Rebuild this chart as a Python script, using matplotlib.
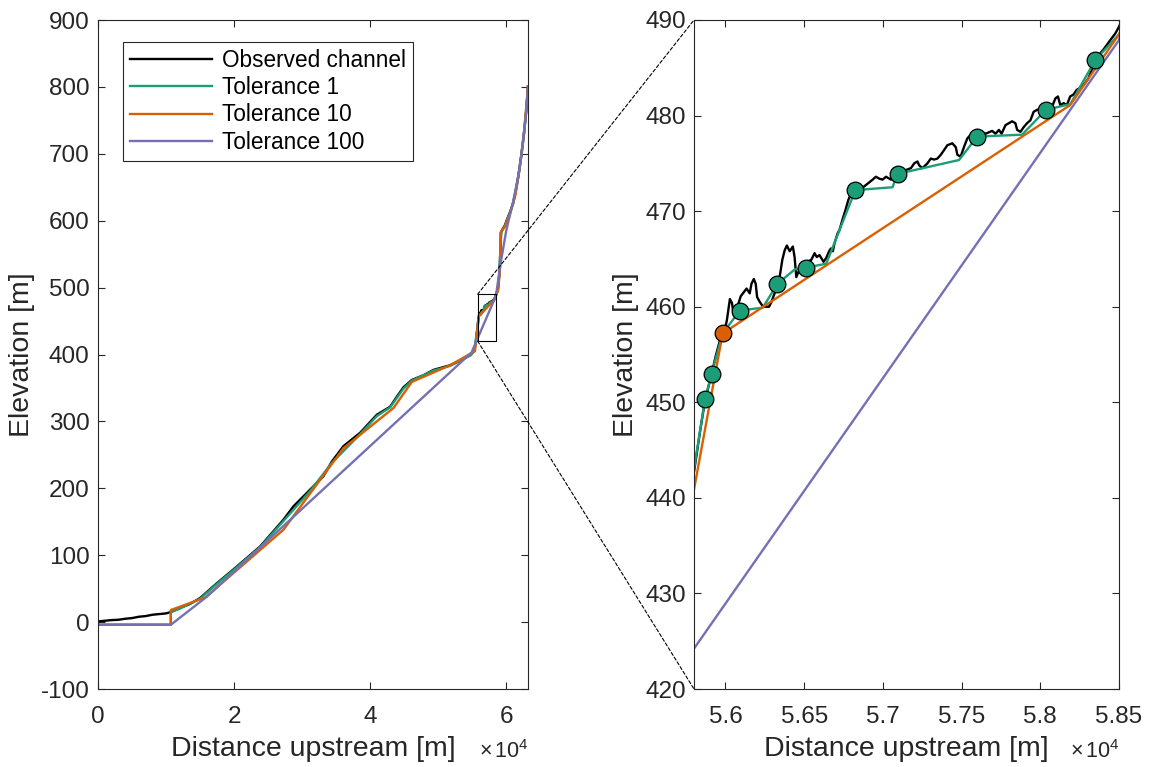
import matplotlib
matplotlib.use("Agg")
import matplotlib.pyplot as plt
from matplotlib.patches import Rectangle, ConnectionPatch
from matplotlib.ticker import FuncFormatter, MultipleLocator
import numpy as np

plt.rcParams['font.family'] = ['Liberation Sans', 'DejaVu Sans']
plt.rcParams['mathtext.fontset'] = 'custom'
plt.rcParams['mathtext.rm'] = 'Liberation Sans'
plt.rcParams['mathtext.it'] = 'Liberation Sans'
plt.rcParams['axes.unicode_minus'] = False

# ---------------- data ----------------
obs_x = [0, 1000, 2000, 3000, 4000, 5000, 6000, 7000, 8000, 9000, 10000, 10700, 12000, 13500,
         15000, 17456, 20397, 23824, 27250, 28720, 31176, 33132, 34368, 36074, 38529, 40985,
         42941, 43926, 44897, 46132, 47838, 49309, 51765, 53500, 54800, 55300, 55550, 55700,
         55800, 55838, 55870, 55908, 55939, 55965, 55996, 56009, 56028, 56041, 56053, 56072,
         56097, 56134, 56154, 56165, 56180, 56192, 56201, 56218, 56239, 56277, 56292, 56323,
         56344, 56361, 56376, 56390, 56408, 56428, 56439, 56450, 56460, 56482, 56545, 56566,
         56580, 56597, 56623, 56640, 56661, 56671, 56682, 56692, 56713, 56724, 56743, 56762,
         56781, 56800, 56825, 56851, 56882, 56935, 56956, 56977, 56998, 57020, 57051, 57093,
         57146, 57178, 57199, 57220, 57230, 57251, 57283, 57304, 57325, 57346, 57368, 57389,
         57410, 57441, 57463, 57473, 57494, 57515, 57536, 57558, 57599, 57653, 57694, 57716,
         57737, 57754, 57779, 57800, 57821, 57842, 57853, 57874, 57895, 57916, 57937, 57958,
         57979, 58032, 58074, 58096, 58112, 58127, 58148, 58169, 58190, 58211, 58232, 58254,
         58275, 58289, 58306, 58344, 58370, 58401, 58445, 58477, 58500,
         58800, 59000, 59150, 59250, 59500, 59800, 60200, 60600, 61000, 61400, 61800, 62200,
         62600, 63000, 63200]
obs_z = [1, 2, 3, 3.5, 5, 6, 8, 9, 11, 12, 13, 15, 21, 27,
         36, 58, 83, 113, 153, 173, 198, 218, 240, 263, 283, 310,
         322, 337, 351, 362, 369, 377, 384, 392, 400, 406, 420, 433,
         442.7, 446.9, 450.2, 452.7, 454.9, 456.5, 457.6, 458.6, 460.8, 460.4, 459.1, 459.8,
         461.1, 461.9, 461.4, 462.4, 462.9, 462.4, 461.0, 460.5, 460.0, 460.0, 460.5, 461.9,
         463.1, 464.9, 465.9, 466.4, 465.8, 466.3, 465.2, 463.1, 463.5, 464.4, 464.9, 465.6,
         465.2, 465.4, 464.7, 465.1, 465.9, 466.1, 465.8, 466.6, 467.7, 468.0, 469.1, 470.1,
         471.2, 471.9, 472.4, 472.2, 472.6, 473.3, 473.6, 473.4, 473.3, 473.6, 473.3, 473.9,
         474.3, 474.5, 475.0, 475.2, 474.8, 474.5, 475.0, 475.5, 475.4, 475.5, 475.9, 476.4,
         476.9, 477.1, 476.7, 475.9, 475.7, 476.7, 477.6, 478.0, 478.5, 478.1, 478.4, 478.1,
         478.5, 478.1, 479.0, 479.2, 479.4, 479.2, 478.5, 478.3, 478.8, 479.2, 479.5, 480.4,
         480.6, 480.8, 480.9, 481.8, 482.0, 481.1, 481.3, 481.1, 482.0, 482.2, 482.7, 482.9,
         483.2, 483.5, 483.9, 485.5, 486.3, 486.9, 487.9, 488.6, 489.3,
         500, 522, 560, 583, 588, 593, 604, 614, 626, 645, 668, 697,
         730, 770, 801]

tol1_x = [0, 10700, 10700, 12000, 15000, 17456, 20397, 23824, 27250, 31176, 34368, 38529,
          40985, 42941, 44897, 46132, 49309, 51765, 54800, 55300, 55800, 55870, 55912, 55982,
          56091, 56237, 56330, 56440, 56514, 56640, 56825, 57061, 57093, 57484, 57599, 57884,
          58036, 58191, 58349, 58500, 58800, 59000, 59150, 59250, 59500, 59800, 60200, 60600,
          61000, 61400, 61800, 62200, 62600, 63000, 63200]
tol1_z = [-4, -4, 15, 20, 35, 57, 82, 112, 151, 196, 238, 281,
          308, 321, 349, 361, 376, 383, 399, 405, 443, 450.3, 453.0, 457.2,
          459.6, 459.9, 462.4, 463.9, 464.1, 464.5, 472.2, 472.5, 473.9, 475.35, 477.8, 478.0,
          480.6, 481.2, 485.8, 488.5, 498, 520, 558, 582, 587, 592, 603, 613,
          625, 644, 667, 696, 729, 769, 801]

tol10_x = [0, 10700, 10700, 15800, 27250, 36074, 43426, 46132, 51765, 55400, 55982, 58190,
           58500, 58800, 59118, 59150, 59853, 60588, 61324, 62000, 62600, 63200]
tol10_z = [-4, -4, 18, 37, 138, 260, 320, 359, 384, 405, 457.2, 481.1,
           488.5, 495, 532, 582, 592, 612, 637, 680, 730, 801]

tol100_x = [0, 10700, 16000, 54900, 58500, 59100, 60000, 61000, 61800, 62400, 62900, 63200]
tol100_z = [-4, -4, 38, 403, 487.9, 532, 585, 628, 668, 710, 760, 801]

knick1_x = [55870, 55912, 56091, 56330, 56514, 56825, 57093, 57599, 58036, 58349]
knick1_z = [450.3, 453.0, 459.6, 462.4, 464.1, 472.2, 473.9, 477.8, 480.6, 485.8]
knick10_x = [55982]
knick10_z = [457.2]

labels = ['Observed channel', 'Tolerance 1', 'Tolerance 10', 'Tolerance 100']
colors = ['black', '#1b9e77', '#d95f02', '#7570b3']

zoom_x = (55800, 58500)
zoom_z = (420, 490)

# ---------------- figure ----------------
W, H = 1153, 767
fig = plt.figure(figsize=(W / 100, H / 100), dpi=100)
axL = fig.add_axes([98 / W, 1 - 689 / H, (528 - 98) / W, (689 - 20) / H])
axR = fig.add_axes([694 / W, 1 - 689 / H, (1119 - 694) / W, (689 - 20) / H])

axcol = '#262626'
series = [(obs_x, obs_z), (tol1_x, tol1_z), (tol10_x, tol10_z), (tol100_x, tol100_z)]

for ax in (axL, axR):
    for (xs, zs), c, lab in zip(series, colors, labels):
        ax.plot(xs, zs, color=c, lw=1.7, label=lab, solid_joinstyle='round')
    ax.tick_params(direction='in', length=5, width=0.8, top=True, right=True,
                   labelsize=17.5, colors=axcol)
    ax.tick_params(axis='y', pad=6)
    ax.tick_params(axis='x', pad=12)
    for s in ax.spines.values():
        s.set_color(axcol)
        s.set_linewidth(0.8)
    ax.set_ylabel('Elevation [m]', fontsize=20.5, color=axcol, labelpad=4)
    ax.set_xlabel('Distance upstream [m]', fontsize=20.5, color=axcol, labelpad=6)
    ax.xaxis.set_major_formatter(FuncFormatter(lambda v, p: '%g' % round(v / 1e4, 4)))
    ax.text(1.002, -0.1035, r'$\times\,10^{4}$', transform=ax.transAxes, ha='right',
            va='baseline', fontsize=15.5, color=axcol)

axR.plot(knick1_x, knick1_z, 'o', ms=12, mfc=colors[1], mec='black', mew=0.9, zorder=5)
axR.plot(knick10_x, knick10_z, 'o', ms=12, mfc=colors[2], mec='black', mew=0.9, zorder=5)

axL.set_xlim(0, 63200)
axL.set_ylim(-100, 900)
axL.xaxis.set_major_locator(MultipleLocator(20000))
axL.yaxis.set_major_locator(MultipleLocator(100))

axR.set_xlim(*zoom_x)
axR.set_ylim(*zoom_z)
axR.xaxis.set_major_locator(MultipleLocator(500))
axR.yaxis.set_major_locator(MultipleLocator(10))

leg = axL.legend(loc='upper left', bbox_to_anchor=(0.058, 0.967), borderaxespad=0,
                 fontsize=16.3, handlelength=3.6, handletextpad=0.45, labelspacing=0.18,
                 borderpad=0.32, fancybox=False, framealpha=1, edgecolor=axcol)
leg.get_frame().set_linewidth(0.8)

rect = Rectangle((zoom_x[0], zoom_z[0]), zoom_x[1] - zoom_x[0], zoom_z[1] - zoom_z[0],
                 fill=False, ec='black', lw=0.8, zorder=6)
axL.add_patch(rect)

for zz, yf in ((zoom_z[1], 1.0), (zoom_z[0], 0.0)):
    con = ConnectionPatch(xyA=(zoom_x[0], zz), coordsA=axL.transData,
                          xyB=(0.0, yf), coordsB=axR.transAxes,
                          color='black', lw=0.8, ls=(0, (3, 2)))
    fig.add_artist(con)

fig.savefig('out.png', dpi=100)
